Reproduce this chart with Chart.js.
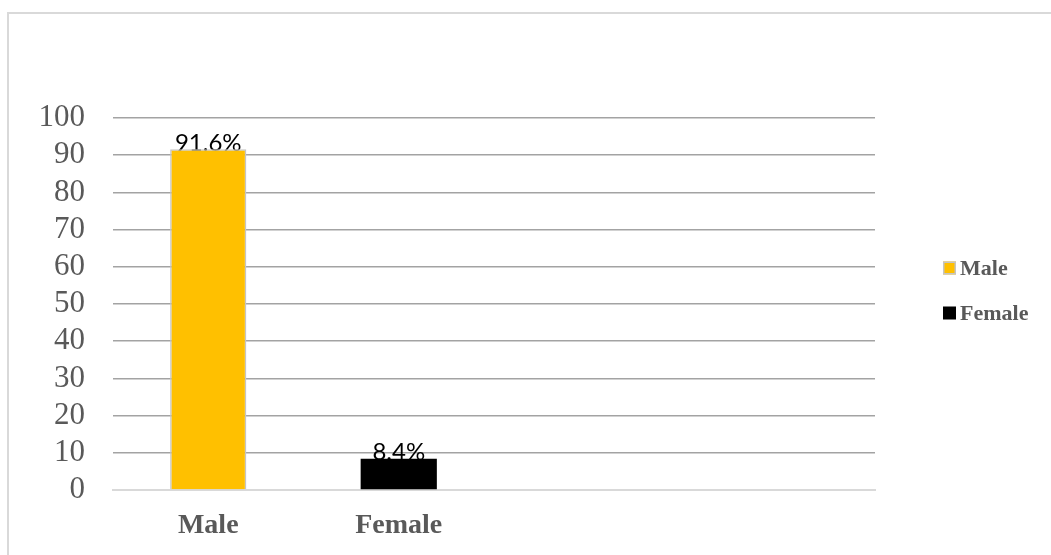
<!DOCTYPE html>
<html>
<head>
<meta charset="utf-8">
<title>Gender distribution</title>
<script src="https://cdn.jsdelivr.net/npm/chart.js@4.4.1/dist/chart.umd.min.js"></script>
<style>
  html, body { margin: 0; padding: 0; background: #ffffff; }
  #wrap { position: relative; width: 1051px; height: 555px; }
</style>
</head>
<body>
<div id="wrap"><canvas id="chart" width="1051" height="555"></canvas></div>
<script>
// Category slots along the x axis (two trailing slots stay empty)
const categories = ['Male', 'Female', '', ''];
// Percentage of respondents per gender
const maleValues = [91.6, null, null, null];
const femaleValues = [null, 8.4, null, null];
// Series names shown in the legend
const seriesNames = ['Male', 'Female'];
// Value axis range
const yMin = 0;
const yMax = 100;
const yStep = 10;

const GOLD = '#FFC000';
const BLACK = '#000000';
const TEXT_GRAY = '#595959';
const SERIF = "'Liberation Serif', 'Times New Roman', serif";

// Light frame around the chart object
const framePlugin = {
  id: 'frame',
  beforeDraw(chart) {
    const ctx = chart.ctx;
    ctx.save();
    ctx.strokeStyle = '#d9d9d9';
    ctx.lineWidth = 2;
    ctx.beginPath();
    ctx.moveTo(8, chart.height);
    ctx.lineTo(8, 13);
    ctx.lineTo(chart.width, 13);
    ctx.stroke();
    ctx.restore();
  }
};

// Value labels sit just above each bar, drawn underneath the bars
const valueLabelPlugin = {
  id: 'valueLabels',
  beforeDatasetsDraw(chart) {
    const ctx = chart.ctx;
    ctx.save();
    ctx.font = "24px Lato, 'Open Sans', sans-serif";
    ctx.fillStyle = '#000000';
    ctx.textAlign = 'center';
    ctx.textBaseline = 'alphabetic';
    chart.data.datasets.forEach((ds, di) => {
      const meta = chart.getDatasetMeta(di);
      meta.data.forEach((bar, i) => {
        const v = ds.data[i];
        if (v === null || v === undefined) return;
        ctx.fillText(v.toFixed(1) + '%', bar.x, bar.y + 1.5);
      });
    });
    ctx.restore();
  }
};

// Legend on the right with square swatches
const sideLegendPlugin = {
  id: 'sideLegend',
  afterDraw(chart) {
    const ctx = chart.ctx;
    const area = chart.chartArea;
    const x0 = area.right + 68;
    const rows = [268, 313];
    ctx.save();
    ctx.font = 'bold 22px ' + SERIF;
    ctx.textBaseline = 'middle';
    ctx.textAlign = 'left';
    chart.data.datasets.forEach((ds, di) => {
      const cy = rows[di];
      ctx.fillStyle = ds.backgroundColor;
      ctx.fillRect(x0, cy - 6.5, 13, 13);
      if (ds.borderWidth) {
        ctx.strokeStyle = ds.borderColor;
        ctx.lineWidth = 1.5;
        ctx.strokeRect(x0 + 0.75, cy - 5.75, 11.5, 11.5);
      }
      ctx.fillStyle = TEXT_GRAY;
      ctx.fillText(ds.label, x0 + 17, cy + 1);
    });
    ctx.restore();
  }
};

new Chart(document.getElementById('chart'), {
  type: 'bar',
  data: {
    labels: categories,
    datasets: [
      {
        label: seriesNames[0],
        data: maleValues,
        backgroundColor: GOLD,
        borderColor: '#c4c4c4',
        borderWidth: 1.5,
        borderSkipped: 'bottom'
      },
      {
        label: seriesNames[1],
        data: femaleValues,
        backgroundColor: BLACK,
        borderWidth: 0
      }
    ]
  },
  options: {
    responsive: false,
    animation: false,
    events: [],
    layout: { padding: { left: 0, right: 176, top: 118, bottom: 0 } },
    datasets: { bar: { categoryPercentage: 0.4, barPercentage: 1.0 } },
    plugins: {
      legend: { display: false },
      tooltip: { enabled: false }
    },
    scales: {
      x: {
        stacked: true,
        grid: { display: false, drawTicks: false },
        border: { display: true, color: '#d9d9d9', width: 2 },
        ticks: {
          color: TEXT_GRAY,
          font: { family: SERIF, size: 28, weight: 'bold' },
          padding: 19,
          maxRotation: 0,
          autoSkip: false
        },
        afterFit(scale) { scale.height = 65; }
      },
      y: {
        stacked: true,
        min: yMin,
        max: yMax,
        grid: {
          drawTicks: false,
          lineWidth: 1.5,
          color: (c) => (c.tick && c.tick.value === 0 ? 'rgba(0,0,0,0)' : '#a3a3a3')
        },
        border: { display: false },
        ticks: {
          stepSize: yStep,
          autoSkip: false,
          color: TEXT_GRAY,
          font: { family: SERIF, size: 31 },
          padding: 28
        },
        afterFit(scale) { scale.width = 113; }
      }
    }
  },
  plugins: [framePlugin, valueLabelPlugin, sideLegendPlugin]
});
</script>
</body>
</html>
